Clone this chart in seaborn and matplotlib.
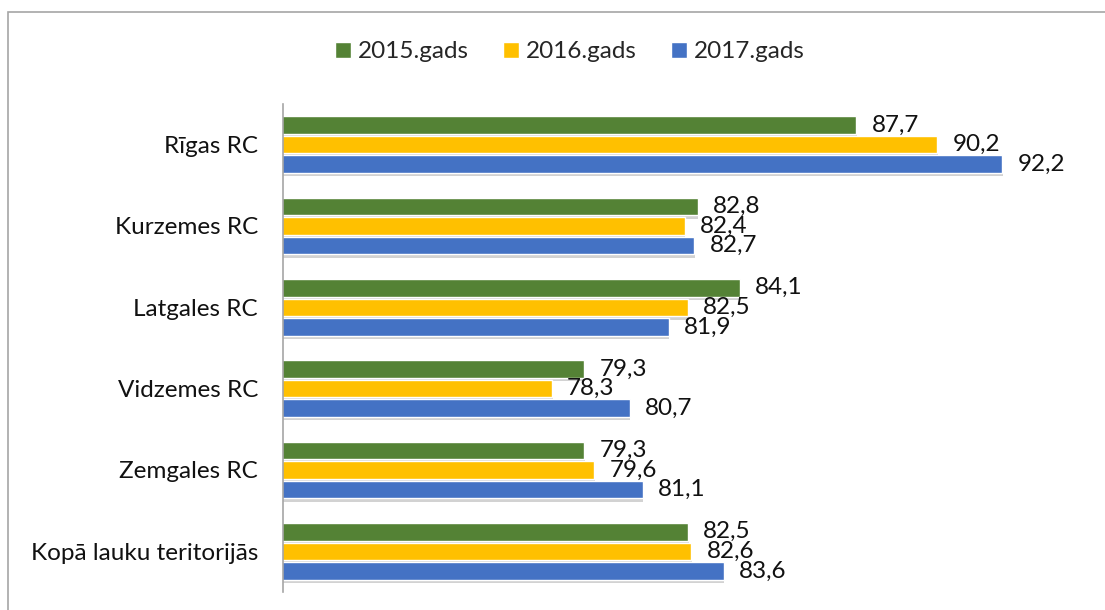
import matplotlib
matplotlib.use("Agg")
import matplotlib.pyplot as plt
import matplotlib.patheffects as pe
import pandas as pd
import seaborn as sns
from matplotlib.patches import Rectangle

categories = [
    "Rīgas RC",
    "Kurzemes RC",
    "Latgales RC",
    "Vidzemes RC",
    "Zemgales RC",
    "Kopā lauku teritorijās",
]
years = ["2015.gads", "2016.gads", "2017.gads"]
values_2015 = [87.7, 82.8, 84.1, 79.3, 79.3, 82.5]
values_2016 = [90.2, 82.4, 82.5, 78.3, 79.6, 82.6]
values_2017 = [92.2, 82.7, 81.9, 80.7, 81.1, 83.6]
colors = ["#548235", "#FFC000", "#4472C4"]

sns.set_style("white")
plt.rcParams["font.family"] = ["Lato", "DejaVu Sans"]

df = pd.DataFrame({
    "region": categories * 3,
    "year": [years[0]] * 6 + [years[1]] * 6 + [years[2]] * 6,
    "value": values_2015 + values_2016 + values_2017,
})

fig = plt.figure(figsize=(11.05, 6.10), dpi=100)
ax = fig.add_axes([283 / 1105, 1 - 592 / 610, (1093 - 283) / 1105, (592 - 104) / 610])

sns.barplot(
    data=df, y="region", x="value", hue="year", orient="h",
    palette=colors, saturation=1, width=0.72, gap=0.1, ax=ax, legend=True,
)

# soft drop shadow under the bars, like the office chart
shadow = [pe.SimplePatchShadow(offset=(0.5, -2.5), shadow_rgbFace="#7f7f7f", alpha=0.35), pe.Normal()]
for cont in ax.containers:
    for bar in cont:
        bar.set_path_effects(shadow)
    labels = [f"{v:.1f}".replace(".", ",") for v in cont.datavalues]
    ax.bar_label(cont, labels=labels, padding=11, fontsize=17.5, color="#111111")

ax.set_xlim(70, 95)
ax.set_xlabel("")
ax.set_ylabel("")
ax.set_xticks([])
for s in ["top", "right", "bottom"]:
    ax.spines[s].set_visible(False)
ax.spines["left"].set_color("#A6A6A6")
ax.spines["left"].set_linewidth(1.2)
ax.tick_params(axis="y", length=0, pad=18, labelsize=17.5, labelcolor="#111111")

handles, labs = ax.get_legend_handles_labels()
ax.get_legend().remove()
fig.legend(
    handles, labs, loc="center", bbox_to_anchor=(0.516, 0.915), ncol=3,
    frameon=False, fontsize=17.5, handlelength=0.65, handleheight=0.65,
    handletextpad=0.3, columnspacing=1.4,
)

fig.patches.append(Rectangle(
    (8 / 1105, -0.1), 1.2, 1 - 12 / 610 + 0.1, transform=fig.transFigure,
    fill=False, edgecolor="#A6A6A6", linewidth=1.2, zorder=0,
))

fig.savefig("out.png", dpi=100)
